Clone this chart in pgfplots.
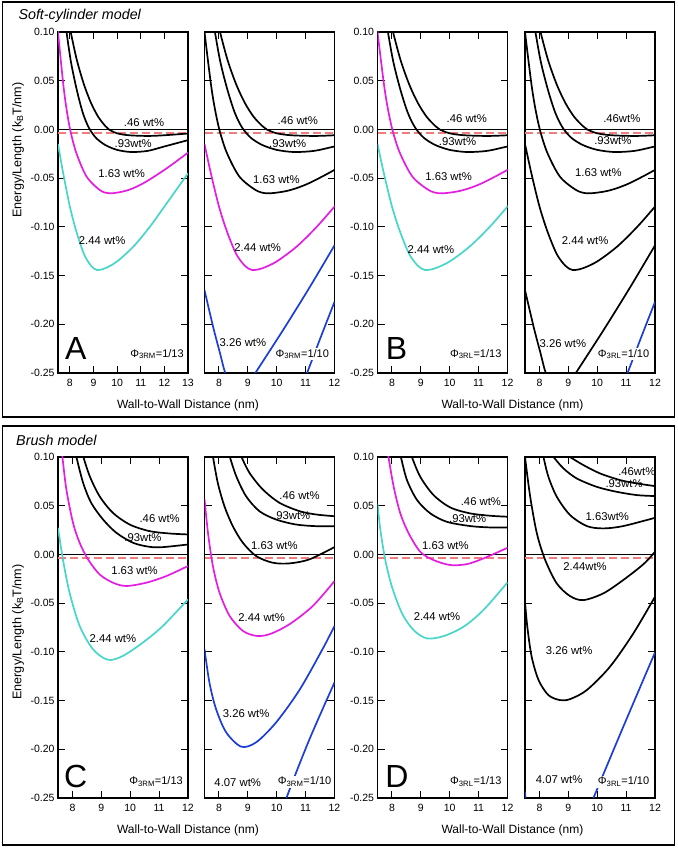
\documentclass[border=0pt]{standalone}
\usepackage{fontspec}
\setmainfont{Liberation Sans}
\usepackage{pgfplots}
\usepackage{pgfplotstable}
\pgfplotsset{compat=1.18}
\definecolor{mag}{RGB}{228,30,224}
\definecolor{turq}{RGB}{72,214,200}
\definecolor{blu}{RGB}{28,62,214}
\definecolor{salm}{RGB}{240,125,125}

% ---------- soft-cylinder model ----------
\pgfplotstableread{
x y
7.97 0.110
8.04 0.0997
8.3 0.071
8.6 0.046
8.9 0.027
9.2 0.013
9.5 0.0035
9.65 0.0
10.0 -0.0040
10.5 -0.0060
11.3 -0.0067
12.0 -0.0060
13.0 -0.0042
}\sfour
\pgfplotstableread{
x y
7.80 0.111
7.86 0.100
8.05 0.069
8.3 0.040
8.55 0.017
8.8 0.002
9.1 -0.0085
9.5 -0.0160
10.0 -0.0210
10.6 -0.0232
11.3 -0.0220
12.0 -0.0175
13.0 -0.0110
}\snine
\pgfplotstableread{
x y
7.47 0.110
7.5 0.100
7.72 0.047
7.86 0.021
8.03 -0.002
8.28 -0.0245
8.71 -0.0485
9.27 -0.0622
9.69 -0.0656
10.4 -0.0628
11.11 -0.0553
12.1 -0.0399
13.0 -0.0238
}\ssix
\pgfplotstableread{
x y
7.5 -0.015
7.72 -0.045
8.0 -0.079
8.28 -0.105
8.6 -0.128
8.9 -0.140
9.15 -0.1443
9.5 -0.1425
10.0 -0.1355
10.7 -0.120
11.4 -0.0995
12.1 -0.0758
13.0 -0.0451
}\stwo
\pgfplotstableread{
x y
7.5 -0.165
7.81 -0.204
8.04 -0.230
8.22 -0.25
8.5 -0.266
8.7 -0.270
9.0 -0.262
9.26 -0.25
10.24 -0.205
11.16 -0.161
12.0 -0.119
}\sthree
\pgfplotstableread{
x y
10.5 -0.292
11.05 -0.25
11.5 -0.215
12.0 -0.177
}\sfive

% ---------- brush model, C ----------
\pgfplotstableread{
x y
8.30 0.108
8.37 0.1007
8.60 0.0802
8.94 0.0597
9.40 0.0427
9.98 0.0307
10.67 0.0239
11.36 0.0215
12.0 0.0205
}\cfour
\pgfplotstableread{
x y
8.07 0.107
8.13 0.1007
8.37 0.0734
8.65 0.0529
9.06 0.0358
9.52 0.0222
10.10 0.0119
10.67 0.0078
11.13 0.0075
12.0 0.0102
}\cnine
\pgfplotstableread{
x y
7.61 0.110
7.65 0.1007
7.79 0.0666
8.02 0.0324
8.25 0.0119
8.54 -0.0051
8.94 -0.0205
9.40 -0.029
9.86 -0.0324
10.56 -0.029
11.25 -0.0222
12.0 -0.0119
}\csix
\pgfplotstableread{
x y
7.5 0.0273
7.67 -0.0051
7.90 -0.0392
8.25 -0.0734
8.71 -0.0973
9.23 -0.1082
9.75 -0.1041
10.44 -0.0904
11.13 -0.0734
12.0 -0.0461
}\ctwo
% ---------- brush model, C2 ----------
\pgfplotstableread{
x y
8.70 0.106
8.77 0.1007
9.06 0.0836
9.52 0.0666
10.10 0.0529
10.79 0.0444
11.36 0.041
12.0 0.0392
}\ccfour
\pgfplotstableread{
x y
8.30 0.108
8.37 0.1007
8.60 0.0802
8.94 0.0597
9.40 0.0444
9.98 0.0358
10.67 0.0307
11.36 0.029
12.0 0.029
}\ccnine
\pgfplotstableread{
x y
7.74 0.110
7.79 0.1007
7.96 0.0734
8.19 0.0495
8.48 0.029
8.83 0.0119
9.29 -0.0017
9.86 -0.0085
10.44 -0.0092
11.13 -0.0051
12.0 0.0075
}\ccsix
\pgfplotstableread{
x y
7.5 0.057
7.62 0.0222
7.79 -0.0119
8.02 -0.0392
8.37 -0.0631
8.83 -0.0785
9.29 -0.0836
9.75 -0.0819
10.44 -0.0717
11.25 -0.0529
12.0 -0.0273
}\cctwo
\pgfplotstableread{
x y
7.5 -0.0973
7.67 -0.1314
7.90 -0.1587
8.25 -0.1826
8.77 -0.1973
9.29 -0.1928
9.98 -0.1724
10.79 -0.139
11.59 -0.097
12.0 -0.0734
}\ccthree
\pgfplotstableread{
x y
10.0 -0.283
10.35 -0.249
11.13 -0.190
12.0 -0.1314
}\ccfive
% ---------- brush model, D ----------
\pgfplotstableread{
x y
8.63 0.105
8.69 0.0999
8.98 0.0797
9.44 0.0609
10.02 0.0482
10.71 0.0421
11.40 0.0397
12.0 0.0387
}\dfour
\pgfplotstableread{
x y
8.26 0.107
8.31 0.0999
8.52 0.0763
8.87 0.0558
9.33 0.0421
9.90 0.0335
10.71 0.0291
11.40 0.0277
12.0 0.0277
}\dnine
\pgfplotstableread{
x y
7.84 0.107
7.88 0.0999
8.06 0.0694
8.29 0.0421
8.58 0.0216
8.98 0.0027
9.44 -0.0058
10.02 -0.0109
10.60 -0.0099
11.17 -0.0041
12.0 0.0068
}\dsix
\pgfplotstableread{
x y
7.5 0.0523
7.60 0.025
7.77 -0.0058
8.0 -0.0332
8.35 -0.0606
8.75 -0.0777
9.21 -0.0862
9.79 -0.0838
10.48 -0.0742
11.17 -0.057
12.0 -0.0287
}\dtwo
% ---------- brush model, D2 ----------
\pgfplotstableread{
x y
8.9 0.1025
9.06 0.0999
9.52 0.0917
10.10 0.0831
10.79 0.0763
11.37 0.0729
12.0 0.0701
}\ddfour
\pgfplotstableread{
x y
8.40 0.1035
8.49 0.0999
8.83 0.0883
9.29 0.0780
9.98 0.0694
10.67 0.0643
11.37 0.0609
12.0 0.0599
}\ddnine
\pgfplotstableread{
x y
8.09 0.108
8.14 0.0999
8.31 0.0797
8.60 0.0592
9.06 0.0404
9.64 0.0291
10.21 0.0267
10.90 0.0291
12.0 0.0376
}\ddsix
\pgfplotstableread{
x y
7.47 0.107
7.5 0.0999
7.68 0.0592
7.91 0.0216
8.20 -0.0058
8.60 -0.0298
9.06 -0.0428
9.52 -0.0469
10.21 -0.0400
10.90 -0.0263
11.60 -0.010
12.0 0.0027
}\ddtwo
\pgfplotstableread{
x y
7.5 -0.0486
7.58 -0.0742
7.73 -0.1050
7.97 -0.1290
8.31 -0.1444
8.71 -0.1495
9.06 -0.1485
9.64 -0.1392
10.44 -0.1153
11.25 -0.0811
12.0 -0.0434
}\ddthree
\pgfplotstableread{
x y
7.5 -0.2435
7.6 -0.262
8.2 -0.33
9.0 -0.32
9.5 -0.277
9.87 -0.25
10.9 -0.177
12.0 -0.1006
}\ddfive

\pgfplotsset{
  panel/.style={
    scale only axis, width=130pt, height=341pt,
    anchor=south west,
    xmin=7.5, xmax=12, ymin=-0.25, ymax=0.10,
    xtick={8,9,10,11,12},
    ytick={-0.25,-0.20,-0.15,-0.10,-0.05,0,0.05,0.10},
    tick align=inside, xtick pos=both, ytick pos=both,
    major tick length=7pt,
    axis line style={line width=1.1pt},
    every tick/.style={black, line width=1pt},
    scaled y ticks=false,
    yticklabel style={/pgf/number format/.cd, fixed, fixed zerofill, precision=2, assume math mode=true},
    xticklabel style={/pgf/number format/assume math mode=true, yshift=-3pt},
    tick label style={font=\fontsize{10.5}{12}\selectfont},
  },
  noy/.style={yticklabels={}},
  crv/.style={smooth, line width=1.7pt, no markers},
}
\tikzset{
  lab/.style={font=\fontsize{11.3}{13}\selectfont, inner sep=0pt},
  phi/.style={font=\fontsize{11}{13}\selectfont, fill=white, inner sep=1pt, anchor=east},
  big/.style={font=\fontsize{32}{34}\selectfont, inner sep=0pt},
}
\newcommand{\zerolines}[1]{%
  \addplot[black, line width=0.8pt] coordinates {(7.5,0) (#1,0)};
  \addplot[salm, line width=2.2pt, dash pattern=on 8pt off 4pt] coordinates {(7.5,-0.0037) (#1,-0.0037)};
}

\begin{document}
\begin{tikzpicture}
\useasboundingbox (0pt,0pt) rectangle (677pt,848pt);
\draw[line width=1.5pt] (2.5pt,431pt) rectangle (674.5pt,846pt);
\draw[line width=1.5pt] (2.5pt,3pt) rectangle (674.5pt,422pt);
\node[anchor=west, font=\fontsize{14.3}{16}\selectfont\itshape] at (15pt,832.5pt) {Soft-cylinder model};
\node[anchor=west, font=\fontsize{14.3}{16}\selectfont\itshape] at (12.7pt,408pt) {Brush model};
\node[rotate=90, font=\fontsize{12.6}{14}\selectfont] at (18pt,698pt) {Energy/Length (k\textsubscript{B}T/nm)};
\node[rotate=90, font=\fontsize{12.6}{14}\selectfont] at (18pt,216pt) {Energy/Length (k\textsubscript{B}T/nm)};
\node[font=\fontsize{12}{14}\selectfont] at (188pt,443pt) {Wall-to-Wall Distance (nm)};
\node[font=\fontsize{12}{14}\selectfont] at (512.5pt,443pt) {Wall-to-Wall Distance (nm)};
\node[font=\fontsize{12}{14}\selectfont] at (188pt,18pt) {Wall-to-Wall Distance (nm)};
\node[font=\fontsize{12}{14}\selectfont] at (512.5pt,18pt) {Wall-to-Wall Distance (nm)};

% ===== A =====
\begin{axis}[panel, at={(58pt,475pt)}, xmax=13, xtick={8,9,10,11,12,13}]
\zerolines{13}
\addplot[crv, black] table {\sfour};
\addplot[crv, black] table {\snine};
\addplot[crv, mag] table {\ssix};
\addplot[crv, turq] table {\stwo};
\node[lab] at (axis cs:11.14,0.007) {.46 wt\%};
\node[lab] at (axis cs:10.68,-0.0143) {.93wt\%};
\node[lab] at (axis cs:10.19,-0.045) {1.63 wt\%};
\node[lab] at (axis cs:9.37,-0.114) {2.44 wt\%};
\node[big] at (axis cs:8.25,-0.2248) {A};
\node[phi] at (axis cs:12.87,-0.2305) {Φ\textsubscript{3RM}=1/13};
\end{axis}
% ===== A2 =====
\begin{axis}[panel, noy, at={(204.5pt,475pt)}]
\zerolines{12}
\addplot[crv, black] table {\sfour};
\addplot[crv, black] table {\snine};
\addplot[crv, black] table {\ssix};
\addplot[crv, mag] table {\stwo};
\addplot[crv, blu] table {\sthree};
\addplot[crv, blu] table {\sfive};
\node[lab] at (axis cs:10.73,0.009) {.46 wt\%};
\node[lab] at (axis cs:10.38,-0.0143) {.93wt\%};
\node[lab] at (axis cs:9.99,-0.052) {1.63 wt\%};
\node[lab] at (axis cs:9.34,-0.121) {2.44 wt\%};
\node[lab] at (axis cs:8.83,-0.219) {3.26 wt\%};
\node[phi] at (axis cs:11.85,-0.2305) {Φ\textsubscript{3RM}=1/10};
\end{axis}
% ===== B =====
\begin{axis}[panel, at={(377.5pt,475pt)}]
\zerolines{12}
\addplot[crv, black] table {\sfour};
\addplot[crv, black] table {\snine};
\addplot[crv, mag] table {\ssix};
\addplot[crv, turq] table {\stwo};
\node[lab] at (axis cs:10.59,0.0114) {.46 wt\%};
\node[lab] at (axis cs:10.27,-0.0126) {.93wt\%};
\node[lab] at (axis cs:9.96,-0.0485) {1.63 wt\%};
\node[lab] at (axis cs:9.35,-0.123) {2.44 wt\%};
\node[big] at (axis cs:8.16,-0.2245) {B};
\node[phi] at (axis cs:11.83,-0.2305) {Φ\textsubscript{3RL}=1/13};
\end{axis}
% ===== B2 =====
\begin{axis}[panel, noy, at={(525pt,475pt)}]
\zerolines{12}
\addplot[crv, black] table {\sfour};
\addplot[crv, black] table {\snine};
\addplot[crv, black] table {\ssix};
\addplot[crv, black] table {\stwo};
\addplot[crv, black] table {\sthree};
\addplot[crv, blu] table {\sfive};
\node[lab] at (axis cs:10.85,0.0114) {.46wt\%};
\node[lab] at (axis cs:10.54,-0.0115) {.93wt\%};
\node[lab] at (axis cs:10.04,-0.044) {1.63 wt\%};
\node[lab] at (axis cs:9.58,-0.114) {2.44 wt\%};
\node[lab] at (axis cs:8.81,-0.2195) {3.26 wt\%};
\node[phi] at (axis cs:11.84,-0.2305) {Φ\textsubscript{3RL}=1/10};
\end{axis}

% ===== C =====
\begin{axis}[panel, at={(58pt,50pt)}]
\zerolines{12}
\addplot[crv, black] table {\cfour};
\addplot[crv, black] table {\cnine};
\addplot[crv, mag] table {\csix};
\addplot[crv, turq] table {\ctwo};
\node[lab] at (axis cs:11.02,0.0365) {.46 wt\%};
\node[lab] at (axis cs:10.44,0.0171) {.93wt\%};
\node[lab] at (axis cs:10.15,-0.0171) {1.63 wt\%};
\node[lab] at (axis cs:9.40,-0.0863) {2.44 wt\%};
\node[big] at (axis cs:8.11,-0.2275) {C};
\node[phi] at (axis cs:11.86,-0.2333) {Φ\textsubscript{3RM}=1/13};
\end{axis}
% ===== C2 =====
\begin{axis}[panel, noy, at={(204.5pt,50pt)}]
\zerolines{12}
\addplot[crv, black] table {\ccfour};
\addplot[crv, black] table {\ccnine};
\addplot[crv, black] table {\ccsix};
\addplot[crv, mag] table {\cctwo};
\addplot[crv, blu] table {\ccthree};
\addplot[crv, blu] table {\ccfive};
\node[lab] at (axis cs:10.79,0.0608) {.46 wt\%};
\node[lab] at (axis cs:10.52,0.0403) {.93wt\%};
\node[lab] at (axis cs:9.92,0.0092) {1.63 wt\%};
\node[lab] at (axis cs:9.48,-0.0648) {2.44 wt\%};
\node[lab] at (axis cs:8.94,-0.163) {3.26 wt\%};
\node[lab] at (axis cs:8.65,-0.2345) {4.07 wt\%};
\node[phi] at (axis cs:11.93,-0.2333) {Φ\textsubscript{3RM}=1/10};
\end{axis}
% ===== D =====
\begin{axis}[panel, at={(377.5pt,50pt)}]
\zerolines{12}
\addplot[crv, black] table {\dfour};
\addplot[crv, black] table {\dnine};
\addplot[crv, mag] table {\dsix};
\addplot[crv, turq] table {\dtwo};
\node[lab] at (axis cs:11.08,0.054) {.46 wt\%};
\node[lab] at (axis cs:10.62,0.0366) {.93wt\%};
\node[lab] at (axis cs:9.85,0.0086) {1.63 wt\%};
\node[lab] at (axis cs:9.56,-0.0633) {2.44 wt\%};
\node[big] at (axis cs:8.17,-0.2275) {D};
\node[phi] at (axis cs:11.83,-0.2333) {Φ\textsubscript{3RL}=1/13};
\end{axis}
% ===== D2 =====
\begin{axis}[panel, noy, at={(525pt,50pt)}]
\zerolines{12}
\addplot[crv, black] table {\ddfour};
\addplot[crv, black] table {\ddnine};
\addplot[crv, black] table {\ddsix};
\addplot[crv, black] table {\ddtwo};
\addplot[crv, black] table {\ddthree};
\addplot[crv, blu] table {\ddfive};
\node[lab] at (axis cs:11.37,0.0848) {.46wt\%};
\node[lab] at (axis cs:10.93,0.0722) {.93wt\%};
\node[lab] at (axis cs:10.35,0.0393) {1.63wt\%};
\node[lab] at (axis cs:9.58,-0.012) {2.44wt\%};
\node[lab] at (axis cs:9.03,-0.0989) {3.26 wt\%};
\node[lab] at (axis cs:8.68,-0.2316) {4.07 wt\%};
\node[phi] at (axis cs:11.84,-0.2333) {Φ\textsubscript{3RL}=1/10};
\end{axis}
\end{tikzpicture}
\end{document}
